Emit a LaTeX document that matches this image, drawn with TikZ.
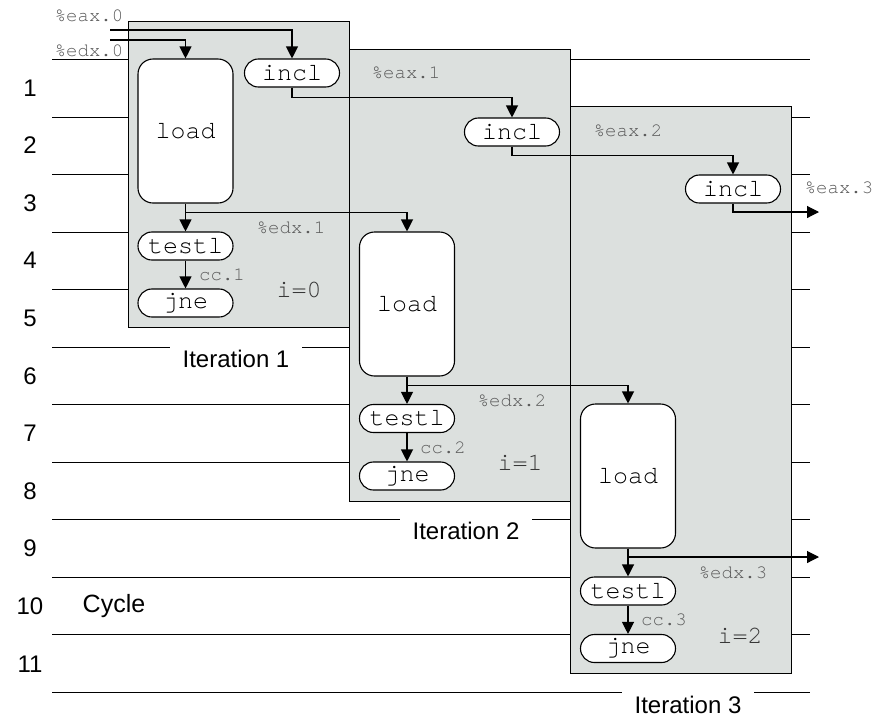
\documentclass[tikz,border=0pt]{standalone}
\usepackage{fontspec}
\setmainfont{Liberation Sans}
\newfontfamily\codefont{TeX Gyre Cursor}
\usetikzlibrary{arrows.meta}
\definecolor{boxgray}{RGB}{220,224,222}
\definecolor{lblgray}{RGB}{90,90,90}
\definecolor{igray}{RGB}{55,55,55}
\begin{document}
\begin{tikzpicture}[x=1pt,y=-1pt,
  rule/.style={line width=1.2pt, black},
  itbox/.style={draw, line width=1.2pt, fill=boxgray, inner sep=0pt, anchor=north west},
  op/.style={draw, line width=1.1pt, fill=white, rectangle, rounded corners=13.9pt,
     minimum width=95pt, minimum height=28pt, inner sep=0pt,
     font=\codefont\fontsize{25}{25}\selectfont},
  loadbox/.style={draw, line width=1.1pt, fill=white, rectangle, rounded corners=15pt,
     minimum width=95pt, minimum height=144pt, inner sep=0pt,
     font=\codefont\fontsize{25}{25}\selectfont},
  reg/.style={text=lblgray, inner sep=0pt, font=\codefont\fontsize{19}{19}\selectfont},
  ival/.style={text=igray, inner sep=0pt, font=\codefont\fontsize{25}{25}\selectfont},
  itlabel/.style={fill=white, inner xsep=13pt, inner ysep=0pt, minimum height=31pt,
     font=\fontsize{24}{24}\selectfont},
  cyc/.style={inner sep=0pt, font=\fontsize{24}{24}\selectfont},
  arr/.style={line width=1.1pt, -{Triangle[length=12pt,width=12pt]}},
]
\useasboundingbox (0,0) rectangle (877,721);

% cycle grid lines
\foreach \y in {59.5,117.5,174.5,232.5,289.5,347.5,404.5,462.5,519.5,577.5,634.5,692.5}
  \draw[rule] (52,\y) -- (810,\y);

% cycle numbers
\foreach \k in {1,...,11}
  \node[cyc] (c\k) at (30,{59+57.6*(\k-0.5)}) {\k};
\node[inner sep=0pt, font=\fontsize{25}{25}\selectfont] (cyclbl) at (114,606) {Cycle};

% iteration labels
\node[itlabel] (L1) at (236,359) {Iteration 1};
\node[itlabel] (L2) at (466,531) {Iteration 2};
\node[itlabel] (L3) at (688,705) {Iteration 3};

% iteration boxes
\node[itbox, minimum width=221pt, minimum height=306pt] (it1) at (128,21) {};
\node[itbox, minimum width=221pt, minimum height=452pt] (it2) at (349,49) {};
\node[itbox, minimum width=221pt, minimum height=567pt] (it3) at (570,106) {};

% operations
\node[loadbox] (load1) at (185.5,131) {load};
\node[op] (incl1) at (292,73) {incl};
\node[op] (testl1) at (185.5,246) {testl};
\node[op] (jne1) at (185.5,303) {jne};

\node[loadbox] (load2) at (407,304) {load};
\node[op] (incl2) at (512,132) {incl};
\node[op] (testl2) at (407,418.5) {testl};
\node[op] (jne2) at (407,476) {jne};

\node[loadbox] (load3) at (628,476) {load};
\node[op] (incl3) at (733,189) {incl};
\node[op] (testl3) at (628,591) {testl};
\node[op] (jne3) at (628,648.5) {jne};

% register labels
\node[reg] (eax0) at (89,16) {\%eax.0};
\node[reg] (edx0) at (89,51) {\%edx.0};
\node[reg] (eax1) at (406,73) {\%eax.1};
\node[reg] (eax2) at (628,131) {\%eax.2};
\node[reg] (eax3) at (839,188) {\%eax.3};
\node[reg] (edx1) at (291,228) {\%edx.1};
\node[reg] (edx2) at (512,401) {\%edx.2};
\node[reg] (edx3) at (733,573) {\%edx.3};
\node[reg] (cc1) at (222,275) {cc.1};
\node[reg] (cc2) at (443,448) {cc.2};
\node[reg] (cc3) at (664,620) {cc.3};
\node[ival] (i0) at (299,290) {i=0};
\node[ival] (i1) at (520,463) {i=1};
\node[ival] (i2) at (740,636) {i=2};

% free ends
\coordinate (ineax) at (110,30);
\coordinate (inedx) at (110,40);
\coordinate (outeax) at (819,212);
\coordinate (outedx) at (819,557);

% connectors
\draw[arr] (ineax) -| (incl1.north);
\draw[arr] (inedx) -| (load1.north);
\draw[arr] (incl1.south) -- ++(0,10) -| (incl2.north);
\draw[arr] (incl2.south) -- ++(0,9) -| (incl3.north);
\draw[arr] (incl3.south) |- (outeax);

\draw[arr] (load1.south) -- (testl1.north);
\draw[arr] (load1.south) ++(0,9) -| (load2.north);
\draw[arr] (testl1.south) -- (jne1.north);

\draw[arr] (load2.south) -- (testl2.north);
\draw[arr] (load2.south) ++(0,9) -| (load3.north);
\draw[arr] (testl2.south) -- (jne2.north);

\draw[arr] (load3.south) -- (testl3.north);
\draw[arr] (load3.south) |- (outedx);
\draw[arr] (testl3.south) -- (jne3.north);
\end{tikzpicture}
\end{document}
